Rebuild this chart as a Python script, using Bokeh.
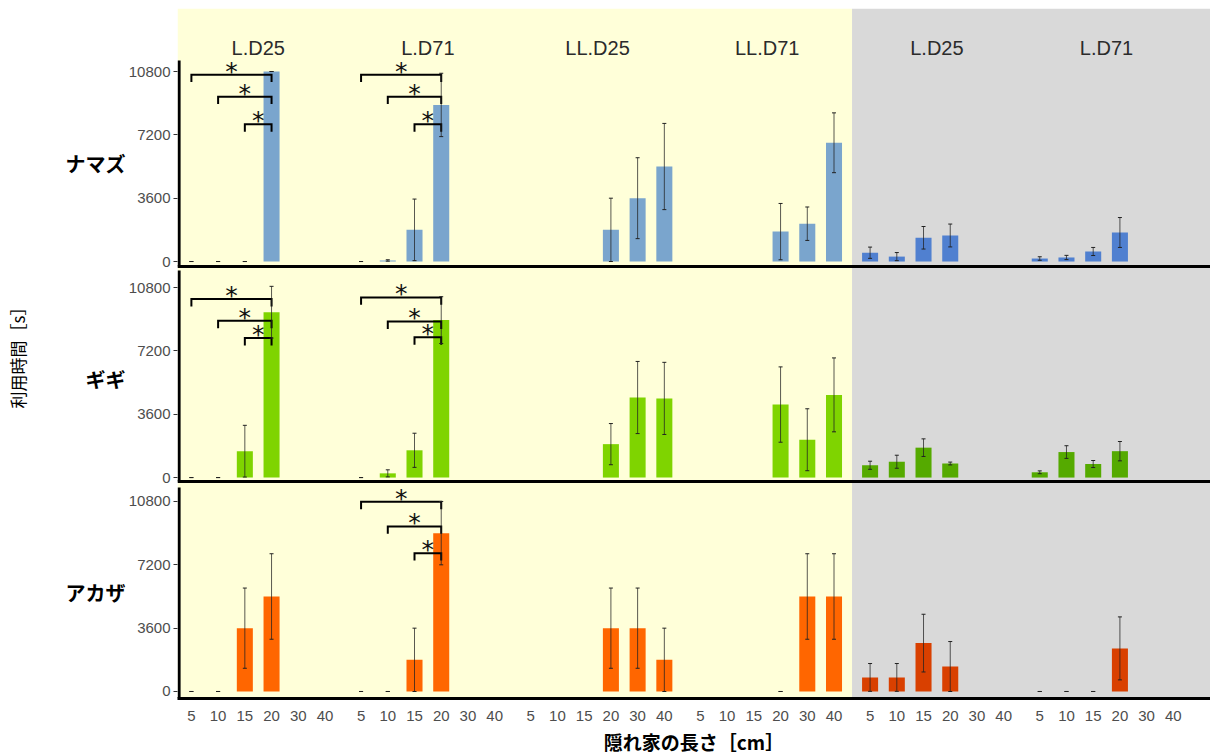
import math
from bokeh.plotting import figure
from bokeh.models import (ColumnDataSource, BoxAnnotation, Span, Whisker,
                          TeeHead, FixedTicker, Range1d, LinearAxis)
from bokeh.core.properties import value
from bokeh.embed import file_html
from bokeh.resources import INLINE

nan = float("nan")

# ---------------- data ----------------
lengths = ["5", "10", "15", "20", "30", "40"]
conditions = ["L.D25", "L.D71", "LL.D25", "LL.D71", "L.D25", "L.D71"]
species = ["ナマズ", "ギギ", "アカザ"]
y_ticks = [0, 3600, 7200, 10800]

namazu_mean = [
    [0, 0, 0, 10800, nan, nan],
    [0, 60, 1800, 8900, nan, nan],
    [nan, nan, nan, 1800, 3600, 5400],
    [nan, nan, nan, 1700, 2150, 6750],
    [500, 280, 1350, 1480, nan, nan],
    [170, 230, 570, 1650, nan, nan],
]
namazu_err = [
    [0, 0, 0, 0, nan, nan],
    [0, 40, 1750, 1800, nan, nan],
    [nan, nan, nan, 1800, 2300, 2450],
    [nan, nan, nan, 1600, 950, 1700],
    [320, 230, 640, 650, nan, nan],
    [100, 120, 230, 850, nan, nan],
]

gigi_mean = [
    [0, 0, 1500, 9400, nan, nan],
    [0, 240, 1550, 8950, nan, nan],
    [nan, nan, nan, 1900, 4550, 4500],
    [nan, nan, nan, 4150, 2150, 4700],
    [700, 900, 1700, 800, nan, nan],
    [300, 1450, 770, 1500, nan, nan],
]
gigi_err = [
    [0, 0, 1470, 1470, nan, nan],
    [0, 200, 970, 1330, nan, nan],
    [nan, nan, nan, 1170, 2050, 2050],
    [nan, nan, nan, 2140, 1760, 2100],
    [230, 370, 500, 80, nan, nan],
    [80, 360, 200, 550, nan, nan],
]

akaza_mean = [
    [0, 0, 3600, 5400, nan, nan],
    [0, 0, 1800, 9000, nan, nan],
    [nan, nan, nan, 3600, 3600, 1800],
    [nan, nan, nan, 0, 5400, 5400],
    [800, 800, 2750, 1420, nan, nan],
    [0, 0, 0, 2450, nan, nan],
]
akaza_err = [
    [0, 0, 2280, 2430, nan, nan],
    [0, 0, 1800, 1800, nan, nan],
    [nan, nan, nan, 2280, 2280, 1800],
    [nan, nan, nan, 0, 2430, 2430],
    [790, 790, 1640, 1420, nan, nan],
    [0, 0, 0, 1790, nan, nan],
]

# significance brackets: panel, condition group, from length idx, to length idx, height
sig_panel = [0, 0, 0, 0, 0, 0, 1, 1, 1, 1, 1, 1, 2, 2, 2]
sig_group = [0, 0, 0, 1, 1, 1, 0, 0, 0, 1, 1, 1, 1, 1, 1]
sig_from = [0, 1, 2, 0, 1, 2, 0, 1, 2, 0, 1, 2, 0, 1, 2]
sig_to = [3] * 15
sig_height = [10620, 9370, 7800, 10620, 9370, 7800,
              10150, 8910, 7930, 10240, 8870, 7970,
              10780, 9380, 7860]

means = [namazu_mean, gigi_mean, akaza_mean]
errs = [namazu_err, gigi_err, akaza_err]

# ---------------- styling / layout ----------------
light_colors = ["#7aa5cd", "#7fd400", "#ff6600"]
dark_colors = ["#5080d0", "#55aa00", "#d94000"]
yellow_bg = "#ffffd9"
gray_bg = "#d9d9d9"

STRIDE = 6.35
BAR_W = 0.6
panel_offsets = [24440, 12160, 0]
panel_bottom = [-284, -227, -398]
panel_top = [11425, 11766, 11596]
x_start, x_end = -0.52, 38.14
y_start, y_end = -398, 38822

def gx(g, i):
    return round(g * STRIDE + i, 3)

p = figure(frame_width=1033, frame_height=690,
           x_range=Range1d(x_start, x_end), y_range=Range1d(y_start, y_end),
           output_backend="svg", toolbar_location=None,
           min_border_left=177, min_border_right=0, min_border_top=8,
           background_fill_color="white", border_fill_color="white",
           outline_line_color=None)
p.xgrid.visible = False
p.ygrid.visible = False

# backgrounds
split = (gx(3, 5) + gx(4, 0)) / 2
p.add_layout(BoxAnnotation(left=x_start, right=split, fill_color=yellow_bg,
                           fill_alpha=1, line_color=None, level="underlay"))
p.add_layout(BoxAnnotation(left=split, right=x_end, fill_color=gray_bg,
                           fill_alpha=1, line_color=None, level="underlay"))

# bars and error bars
bx, btop, bbot, bcol, elo, ehi = [], [], [], [], [], []
for r in range(3):
    off = panel_offsets[r]
    for g in range(6):
        for i in range(6):
            m = means[r][g][i]
            e = errs[r][g][i]
            if isinstance(m, float) and math.isnan(m):
                continue
            bx.append(gx(g, i))
            bbot.append(off)
            btop.append(off + m)
            bcol.append(light_colors[r] if g < 4 else dark_colors[r])
            elo.append(off + max(m - e, 0))
            ehi.append(off + m + e)

src = ColumnDataSource(dict(x=bx, top=btop, bottom=bbot, color=bcol,
                            lower=elo, upper=ehi))
p.vbar(x="x", top="top", bottom="bottom", width=BAR_W, fill_color="color",
       line_color=None, source=src)
wh = Whisker(source=src, base="x", lower="lower", upper="upper",
             dimension="height", line_color="#222222", line_alpha=0.75,
             line_width=1, level="overlay",
             upper_head=TeeHead(size=4, line_color="#222222", line_width=1),
             lower_head=TeeHead(size=4, line_color="#222222", line_width=1))
p.add_layout(wh)

# significance brackets
bxs, bys, ax, ay = [], [], [], []
TICK = 420
for k in range(len(sig_panel)):
    off = panel_offsets[sig_panel[k]]
    xl = gx(sig_group[k], sig_from[k])
    xr = gx(sig_group[k], sig_to[k])
    yb = off + sig_height[k]
    bxs.append([xl, xl, xr, xr])
    bys.append([yb - TICK, yb, yb, yb - TICK])
    ax.append((xl + xr) / 2)
    ay.append(yb + 200)
p.multi_line(xs=bxs, ys=bys, line_color="black", line_width=2,
             line_join="miter")
p.text(x=ax, y=ay, text=["*"] * len(ax), text_align="center",
       text_baseline="alphabetic", text_font=value("DejaVu Sans"),
       text_font_size="25px", text_color="#111111")

# panel axis lines and separators
for r in range(3):
    off = panel_offsets[r]
    p.segment(x0=[x_start + 0.06], x1=[x_start + 0.06],
              y0=[off + panel_bottom[r]], y1=[off + panel_top[r]],
              line_color="black", line_width=3)
    if r < 2:
        p.add_layout(Span(location=off + panel_bottom[r], dimension="width",
                          line_color="black", line_width=3))

# strip labels
strip_src = ColumnDataSource(dict(x=[gx(g, 2.5) for g in range(6)],
                                  y=[panel_offsets[0] + 12150] * 6,
                                  t=conditions))
p.text(x="x", y="y", text="t", source=strip_src, text_align="center",
       text_baseline="middle", text_font=value("Liberation Sans"),
       text_font_size="20px", text_color="#2b2b2b")

# y axis (numbers)
yt = []
yover = {}
for off in panel_offsets:
    for v in y_ticks:
        yt.append(off + v)
        yover[off + v] = str(v)
p.yaxis.ticker = FixedTicker(ticks=yt)
p.yaxis.major_label_overrides = yover
p.yaxis.axis_line_color = None
p.yaxis.major_tick_in = 0
p.yaxis.major_tick_out = 4
p.yaxis.major_tick_line_color = "#333333"
p.yaxis.minor_tick_line_color = None
p.yaxis.major_label_standoff = 3
p.yaxis.major_label_text_font = "Liberation Sans"
p.yaxis.major_label_text_font_size = "15px"
p.yaxis.major_label_text_color = "#4d4d4d"

# species axis (row labels) with y title
sp_ticks = [off + 5600 for off in panel_offsets]
sp_axis = LinearAxis(ticker=FixedTicker(ticks=sp_ticks),
                     major_label_overrides={t: s for t, s in zip(sp_ticks, species)})
sp_axis.axis_line_color = None
sp_axis.major_tick_line_color = None
sp_axis.minor_tick_line_color = None
sp_axis.major_tick_out = 0
sp_axis.major_tick_in = 0
sp_axis.major_label_standoff = 0
sp_axis.major_label_text_font = "Noto Sans CJK JP"
sp_axis.major_label_text_font_style = "bold"
sp_axis.major_label_text_font_size = "20px"
sp_axis.major_label_text_color = "black"
sp_axis.axis_label = "利用時間［s］"
sp_axis.axis_label_text_font = "Noto Sans CJK JP"
sp_axis.axis_label_text_font_style = "normal"
sp_axis.axis_label_text_font_size = "17px"
sp_axis.axis_label_text_color = "black"
sp_axis.axis_label_standoff = 33
p.add_layout(sp_axis, "left")

# x axis
xt = []
xover = {}
for g in range(6):
    for i in range(6):
        xt.append(gx(g, i))
        xover[gx(g, i)] = lengths[i]
p.xaxis.ticker = FixedTicker(ticks=xt)
p.xaxis.major_label_overrides = xover
p.xaxis.axis_line_color = "black"
p.xaxis.axis_line_width = 3
p.xaxis.major_tick_line_color = None
p.xaxis.minor_tick_line_color = None
p.xaxis.major_label_standoff = 6
p.xaxis.major_label_text_font = "Liberation Sans"
p.xaxis.major_label_text_font_size = "15px"
p.xaxis.major_label_text_color = "#4d4d4d"
p.xaxis.axis_label = "隠れ家の長さ［cm］"
p.xaxis.axis_label_text_font = "Noto Sans CJK JP"
p.xaxis.axis_label_text_font_style = "bold"
p.xaxis.axis_label_text_font_size = "19px"
p.xaxis.axis_label_text_color = "black"
p.xaxis.axis_label_standoff = 4

open("out.html", "w").write(file_html(p, INLINE))
